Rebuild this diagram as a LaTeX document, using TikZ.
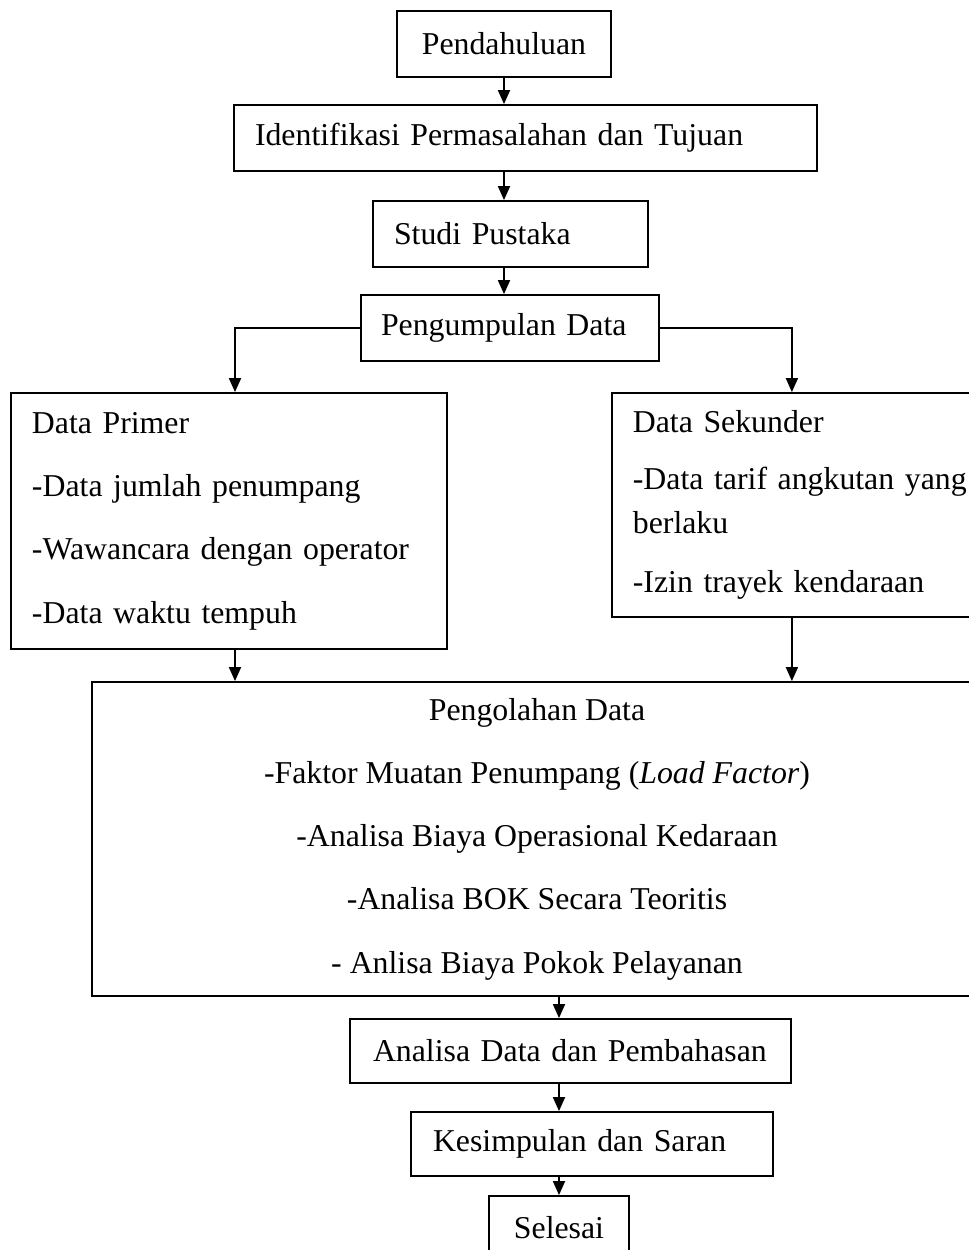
\documentclass[tikz,border=0pt]{standalone}
\usepackage{fontspec}
\setmainfont{Liberation Serif}
\usetikzlibrary{arrows.meta,positioning}
\tikzset{
  >={Triangle[length=7pt,width=6pt]},
  box/.style={draw,line width=0.9pt,rectangle,inner ysep=0pt,font=\fontsize{15.9}{31.65}\selectfont},
  cbox/.style={box,align=center,inner xsep=0pt},
  lbox/.style={box,align=left,inner xsep=10.5pt},
  arr/.style={->,line width=0.9pt},
}
\begin{document}
\begin{tikzpicture}[x=0.5pt,y=-0.5pt]
\useasboundingbox (0,0) rectangle (969,1250);
\clip (0,0) rectangle (969,1250);
\node[cbox,minimum width=107pt,minimum height=33pt] (pend) at (504,44) {Pendahuluan};
\node[lbox,text width=270.5pt,minimum height=33pt] (ident) at (525.5,138) {Identifikasi Permasalahan dan Tujuan};
\node[lbox,text width=116.5pt,minimum height=33pt] (studi) at (510.5,234) {Studi Pustaka};
\node[lbox,inner xsep=10pt,text width=129pt,minimum height=33pt] (kumpul) at (510,328) {Pengumpulan Data};
\node[lbox,text width=197pt,minimum height=128pt] (primer) at (229,521)
  {Data Primer\\-Data jumlah penumpang\\-Wawancara dengan operator\\-Data waktu tempuh};
\node[lbox,text width=180pt,minimum height=112pt,anchor=west,font=\fontsize{15.9}{22}\selectfont] (sekunder) at (611,505)
  {Data Sekunder\\[6.5pt]-Data tarif angkutan yang\\berlaku\\[7.5pt]-Izin trayek kendaraan};
\node[cbox,minimum width=445pt,minimum height=157pt] (olah) at (537,839)
  {Pengolahan Data\\-Faktor Muatan Penumpang (\textit{Load Factor})\\-Analisa Biaya Operasional Kedaraan\\-Analisa BOK Secara Teoritis\\- Anlisa Biaya Pokok Pelayanan};
\node[lbox,inner xsep=11.5pt,text width=197.5pt,minimum height=32pt] (analisa) at (570.5,1051) {Analisa Data dan Pembahasan};
\node[lbox,inner xsep=11pt,text width=159pt,minimum height=32pt] (simpul) at (592,1144) {Kesimpulan dan Saran};
\node[cbox,minimum width=70pt,minimum height=32pt] (selesai) at (559,1228) {Selesai};
% alur utama
\draw[arr] (pend.south) -- (pend.south |- ident.north);
\draw[arr] (pend.south |- ident.south) -- (pend.south |- studi.north);
\draw[arr] (pend.south |- studi.south) -- (pend.south |- kumpul.north);
% cabang data
\draw[arr] (kumpul.west) -| ([xshift=3pt]primer.north);
\draw[arr] (kumpul.east) -| ([xshift=-10.5pt]sekunder.north);
\draw[arr] ([xshift=3pt]primer.south) -- ([xshift=3pt]primer.south |- olah.north);
\draw[arr] ([xshift=-10.5pt]sekunder.south) -- ([xshift=-10.5pt]sekunder.south |- olah.north);
\draw[arr] (selesai.north |- olah.south) -- (selesai.north |- analisa.north);
\draw[arr] (selesai.north |- analisa.south) -- (selesai.north |- simpul.north);
\draw[arr] (selesai.north |- simpul.south) -- (selesai.north);
\end{tikzpicture}
\end{document}
